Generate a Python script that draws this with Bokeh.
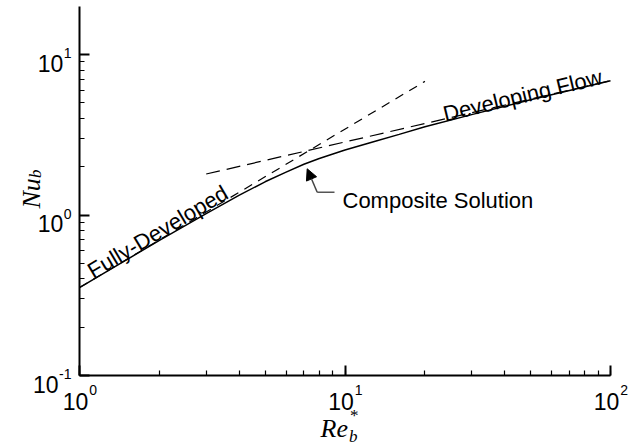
import math
from bokeh.plotting import figure
from bokeh.models import Range1d, Label, Arrow, NormalHead, CustomJSTickFormatter
from bokeh.embed import file_html
from bokeh.resources import INLINE

# ---------------- data ----------------
re_composite = [1, 2, 3, 4, 5, 6, 7, 8, 10, 13, 16, 20, 30, 50, 100]
nu_composite = [0.353, 0.695, 1.02, 1.33, 1.61, 1.85, 2.07, 2.25, 2.54, 2.88, 3.18, 3.55, 4.22, 5.22, 6.87]

re_fully = [1, 20]
nu_fully = [0.353, 6.80]

re_developing = [3, 100]
nu_developing = [1.80, 6.87]

x_axis_bounds = (1, 100)
y_axis_min = 0.1
x_tick_values = [1, 10, 100]
x_tick_exponents = ["0", "1", "2"]
y_tick_values = [0.1, 1, 10]
y_tick_exponents = ["-1", "0", "1"]

# ---------------- layout helpers (page pixel -> data) ----------------
W, H = 628, 445
X0_PX, X_DEC = 79.0, 265.5     # page x of Re=1, px per decade
Y10_PX, Y_DEC = 54.0, 160.5    # page y of Nu=10, px per decade


def dx(px):
    return 10 ** ((px - X0_PX) / X_DEC)


def dy(py):
    return 10 ** (1 - (py - Y10_PX) / Y_DEC)


SANS = "Liberation Sans"
SERIF = "Liberation Serif"

# the frame covers the whole canvas; the axes sit at fixed data locations
p = figure(width=W, height=H, x_axis_type="log", y_axis_type="log",
           x_range=Range1d(dx(0), dx(W)),
           y_range=Range1d(dy(H), dy(0)),
           output_backend="svg", toolbar_location=None,
           min_border=0, min_border_left=0, min_border_right=0,
           min_border_top=0, min_border_bottom=0)
p.background_fill_color = "white"
p.border_fill_color = "white"
p.outline_line_color = None
p.grid.visible = False

p.xaxis.fixed_location = y_axis_min
p.yaxis.fixed_location = x_axis_bounds[0]
p.xaxis.bounds = x_axis_bounds
p.yaxis.bounds = (y_axis_min, dy(6))

for ax in (p.xaxis, p.yaxis):
    ax.axis_line_width = 2
    ax.axis_line_color = "black"
    ax.major_tick_in = 10
    ax.major_tick_out = 0
    ax.minor_tick_in = 5
    ax.minor_tick_out = 0
    ax.major_tick_line_width = 2
    ax.minor_tick_line_width = 1.2
    ax.major_tick_line_color = "black"
    ax.minor_tick_line_color = "black"
    ax.formatter = CustomJSTickFormatter(code="return '';")

# ---------------- curves ----------------
p.line(re_fully, nu_fully, line_color="black", line_width=1.2, line_dash="9 7")
p.line(re_developing, nu_developing, line_color="black", line_width=1.2, line_dash="14 7")
p.line(re_composite, nu_composite, line_color="black", line_width=1.5)


def label(**kw):
    kw.setdefault("text_align", "left")
    kw.setdefault("text_baseline", "alphabetic")
    kw.setdefault("text_color", "black")
    p.add_layout(Label(**kw))


# ---------------- tick labels ----------------
def sup_width(s, size=14):
    return sum(0.333 * size if c == "-" else 0.556 * size for c in s)


for v, e in zip(y_tick_values, y_tick_exponents):
    w = sup_width(e)
    label(x=x_axis_bounds[0], y=v, x_offset=-8, y_offset=1.5, text=e,
          text_align="right", text_font=SANS, text_font_size="14px")
    label(x=x_axis_bounds[0], y=v, x_offset=-8 - w - 0.5, y_offset=-8.5, text="10",
          text_align="right", text_font=SANS, text_font_size="23px")

for v, e in zip(x_tick_values, x_tick_exponents):
    label(x=v, y=y_axis_min, x_offset=-16.7, y_offset=-26, text="10",
          text_font=SANS, text_font_size="23px")
    label(x=v, y=y_axis_min, x_offset=9.8, y_offset=-14.5, text=e,
          text_font=SANS, text_font_size="14px")

# ---------------- axis titles ----------------
label(x=dx(31), y=dy(208), text="Nu", angle=math.pi / 2,
      text_font=SERIF, text_font_style="italic", text_font_size="26px")
label(x=dx(35), y=dy(177.5), text="b", angle=math.pi / 2,
      text_font=SERIF, text_font_style="italic", text_font_size="17px")

label(x=dx(320), y=dy(428), text="Re",
      text_font=SERIF, text_font_style="italic", text_font_size="26px")
label(x=dx(348.5), y=dy(435.5), text="b",
      text_font=SERIF, text_font_style="italic", text_font_size="17px")
label(x=dx(349.5), y=dy(415), text="*", text_font=SERIF, text_font_size="17px")

# ---------------- curve annotations ----------------
label(x=dx(89), y=dy(272), text="Fully-Developed", angle=math.radians(30.8),
      text_font=SANS, text_font_size="22px")
label(x=dx(443), y=dy(114), text="Developing Flow", angle=math.radians(13.5),
      text_font=SANS, text_font_size="22px")
label(x=dx(342), y=dy(199.5), text="Composite Solution",
      text_font=SANS, text_font_size="22px")

p.add_layout(Arrow(end=None, x_start=dx(334), y_start=dy(191.7),
                   x_end=dx(316.7), y_end=dy(191.7),
                   line_color="#555555", line_width=1.5))
p.add_layout(Arrow(end=NormalHead(size=11, fill_color="black", line_color="black"),
                   x_start=dx(316.7), y_start=dy(191.7),
                   x_end=dx(306.7), y_end=dy(168.3),
                   line_color="#444444", line_width=1.5))

open("out.html", "w").write(file_html(p, INLINE))
